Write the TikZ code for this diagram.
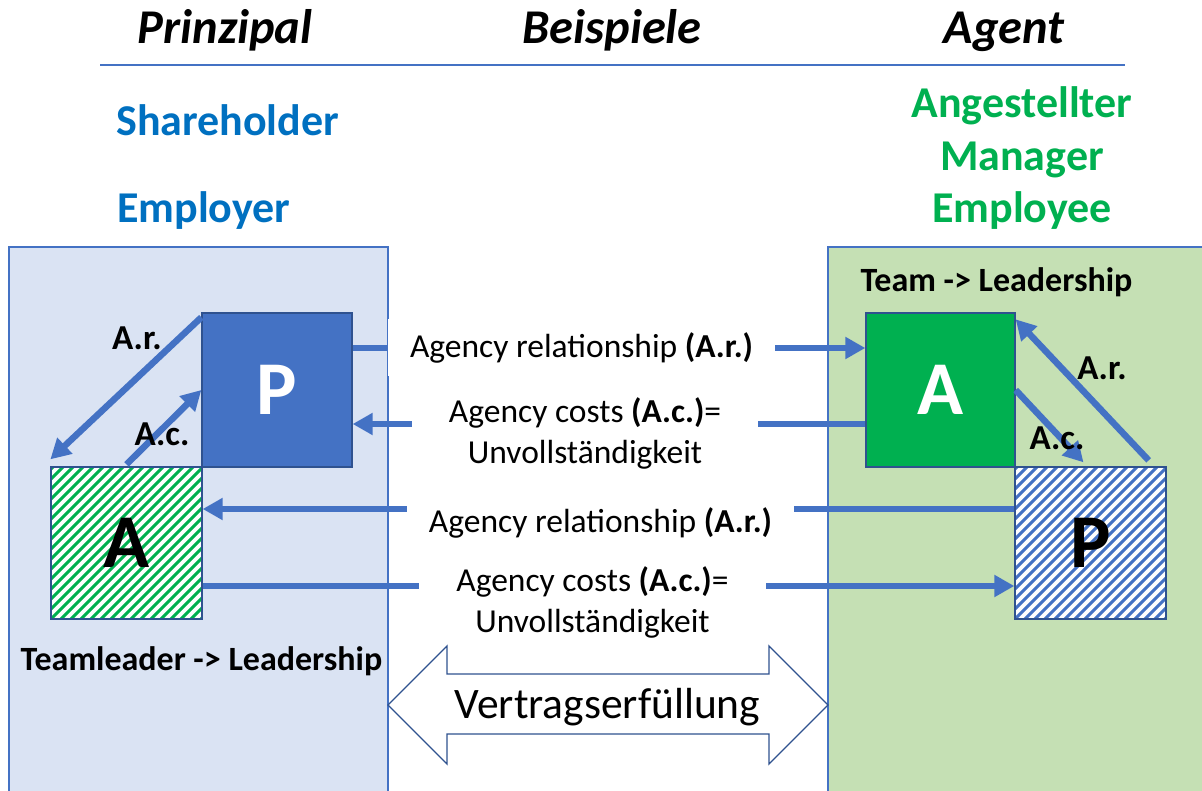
\documentclass[tikz,border=0pt]{standalone}
\usepackage{fontspec}
\setmainfont{Carlito}
\usetikzlibrary{arrows.meta}
\definecolor{arrowc}{HTML}{4472C4}
\definecolor{edgec}{HTML}{2F528F}
\definecolor{panelL}{HTML}{DAE3F3}
\definecolor{panelR}{HTML}{C5E0B4}
\definecolor{agreen}{HTML}{00B050}
\definecolor{sblue}{HTML}{0070C0}
\tikzset{
  arr/.style={draw=arrowc, line width=6.5pt, -{Triangle[length=20pt,width=21pt]}},
  lab/.style={fill=white, inner sep=0pt, align=center, font=\fontsize{33.5}{41}\selectfont},
  box/.style={rectangle, draw=edgec, line width=1.3pt, inner sep=0pt, font=\bfseries\fontsize{76}{80}\selectfont},
  hatch/.style={fill=white, path picture={\foreach \k in {-17,...,17}{\draw[line width=3pt,#1] ([xshift=\k*10pt]path picture bounding box.south west) -- ++(175,-175);}}},
  head/.style={font=\bfseries\itshape\fontsize{48.5}{52}\selectfont, anchor=base, inner sep=0pt},
  role/.style={font=\bfseries\fontsize{44}{50}\selectfont, inner sep=0pt},
  small/.style={font=\bfseries\fontsize{35}{40}\selectfont, inner sep=0pt},
  team/.style={font=\bfseries\fontsize{34}{38}\selectfont, inner sep=0pt, anchor=base},
  panel/.style={draw=arrowc, line width=1.2pt}
}
\begin{document}
\begin{tikzpicture}[x=1pt,y=-1pt]
\useasboundingbox (0,0) rectangle (1202,791);
% headers
\node[head] (hP) at (225,44) {Prinzipal};
\node[head] (hB) at (612,44) {Beispiele};
\node[head] (hA) at (1004,44) {Agent};
\draw[arrowc, line width=1.5pt] (100,65) -- (1125,65);
% examples
\node[role, text=sblue, anchor=base west] (sh) at (116,136) {Shareholder};
\node[role, text=sblue, anchor=base west] (em) at (117,223) {Employer};
\node[role, text=agreen, anchor=base] (an) at (1022,118) {Angestellter};
\node[role, text=agreen, anchor=base] (ma) at (1022,171) {Manager};
\node[role, text=agreen, anchor=base] (ee) at (1022,223) {Employee};
% panels
\fill[panelL] (9,247) rectangle (388,800);
\draw[panel] (9,800) -- (9,247) -- (388,247) -- (388,800);
\fill[panelR] (828,247) rectangle (1210,800);
\draw[panel] (828,800) -- (828,247) -- (1210,247);
% boxes
\node[box, fill=arrowc, text=white, minimum width=150, minimum height=154] (Pl) at (277,390) {P};
\node[box, hatch=agreen, minimum width=151, minimum height=152] (Al) at (126.5,543) {A};
\node[box, fill=agreen, text=white, minimum width=149, minimum height=154] (Ag) at (940.5,390) {A};
\node[box, hatch=arrowc, minimum width=151, minimum height=152] (hPr) at (1090.5,543) {P};
% inner arrows left
\draw[arr] ([yshift=-5pt]Pl.north west) -- ([yshift=7pt]Al.north west);
\draw[arr] ([yshift=2pt]Al.north) -- (Pl.west);
\node[small] (lar) at (137,338) {A.r.};
\node[small] (lac) at (162,434) {A.c.};
% inner arrows right
\draw[arr] (Ag.east) -- ([xshift=-7pt,yshift=4pt]hPr.north);
\draw[arr] ([xshift=-18pt,yshift=6pt]hPr.north east) -- ([yshift=-7pt]Ag.north east);
\node[small] (rar) at (1102,368) {A.r.};
\node[small] (rac) at (1057,438) {A.c.};
% team labels
\node[team] (tl) at (996.5,292) {Team -> Leadership};
\node[team] (tll) at (201.5,670) {Teamleader -> Leadership};
% middle arrows
\draw[arr] ([yshift=42pt]Pl.east) -- ([yshift=42pt]Ag.west)
  node[lab, pos=0.4465, minimum width=387, minimum height=57] {Agency relationship \textbf{(A.r.)}};
\draw[arr] ([yshift=-34pt]Ag.west) -- ([yshift=-34pt]Pl.east)
  node[lab, pos=0.5467, yshift=-9.5pt, minimum width=346, minimum height=80] {Agency costs \textbf{(A.c.)}=\\Unvollständigkeit};
\draw[arr] ([yshift=34pt]hPr.west) -- ([yshift=34pt]Al.east)
  node[lab, pos=0.5098, yshift=-13.5pt, minimum width=387, minimum height=42] {Agency relationship \textbf{(A.r.)}};
\draw[arr] ([yshift=-43pt]Al.east) -- ([yshift=-43pt]hPr.west)
  node[lab, pos=0.4803, yshift=-16.5pt, minimum width=347, minimum height=80] {Agency costs \textbf{(A.c.)}=\\Unvollständigkeit};
% double arrow
\draw[edgec, line width=1.3pt, fill=white] (388,705) -- (447,646) -- (447,674) -- (769,674) -- (769,646) -- (828,705) -- (769,764) -- (769,734) -- (447,734) -- (447,764) -- cycle;
\node[font=\fontsize{43.5}{48}\selectfont, anchor=base, inner sep=0pt] (vt) at (607.5,718) {Vertragserfüllung};
\end{tikzpicture}
\end{document}
